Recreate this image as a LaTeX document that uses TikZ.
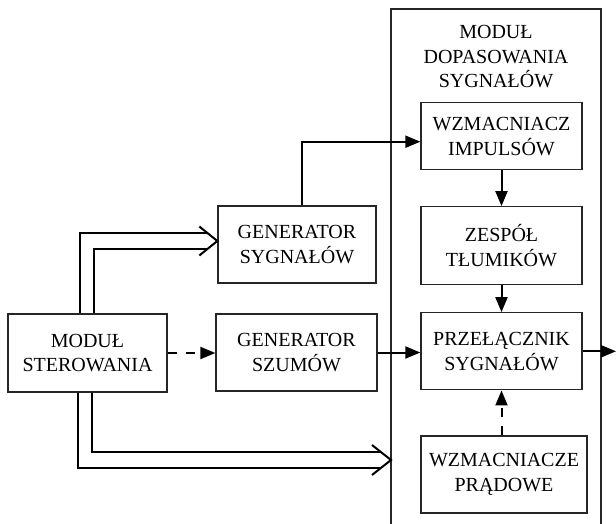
\documentclass[tikz,border=0pt]{standalone}
\usepackage{fontspec}
\setmainfont{Liberation Serif}
\usetikzlibrary{arrows.meta,calc}
\begin{document}
\begin{tikzpicture}[x=1pt,y=-1pt,
  every node/.style={font=\fontsize{20}{24.5}\selectfont, align=center},
  blk/.style={draw=black!85, line width=1.3pt, inner sep=0pt},
  lbl/.style={inner sep=0pt},
  conn/.style={line width=2pt},
  arr/.style={conn, -{Triangle[length=15pt,width=12pt]}},
  dsh/.style={dash pattern=on 9pt off 9pt},
  chev/.style={line width=2pt, line join=miter, miter limit=10}
]
\useasboundingbox (0,0) rectangle (616,524);

% outer module frame
\coordinate (obl) at (391,524);
\coordinate (otl) at (391,9);
\coordinate (otr) at (601,9);
\coordinate (obr) at (601,524);
\draw[blk] (obl) -- (otl) -- (otr) -- (obr);
\node[lbl] (mdtitle) at (496,57) {MODUŁ\\DOPASOWANIA\\SYGNAŁÓW};

% blocks
\node[blk, minimum width=159pt, minimum height=78pt] (ms) at (87.5,353) {MODUŁ\\STEROWANIA};
\node[blk, minimum width=158pt, minimum height=77pt] (gsyg) at (297,244.5) {GENERATOR\\SYGNAŁÓW};
\node[blk, minimum width=161pt, minimum height=77pt] (gszum) at (296.5,352.5) {GENERATOR\\SZUMÓW};
\node[blk, minimum width=161pt, minimum height=67pt] (wi) at (501.5,136.3) {WZMACNIACZ\\IMPULSÓW};
\node[blk, minimum width=161pt, minimum height=77.5pt] (zt) at (501.5,245.5) {ZESPÓŁ\\TŁUMIKÓW};
\node[blk, minimum width=161pt, minimum height=77pt] (ps) at (501.5,351.3) {PRZEŁĄCZNIK\\SYGNAŁÓW};
\node[blk, minimum width=166pt, minimum height=77pt] (wp) at (504,474.5) {WZMACNIACZE\\PRĄDOWE};

% single connectors
\draw[arr] ([xshift=4.7pt]gsyg.north) |- ([yshift=-5.4pt]wi.west);
\draw[arr] (wi.south) -- (zt.north);
\draw[arr] (zt.south) -- (ps.north);
\draw[arr] (gszum.east) -- (gszum.east -| ps.west);
\draw[arr, dsh] (ms.east) -- (ms.east -| gszum.west);
\draw[arr, dsh] (ps.south |- wp.north) -- (ps.south);
\coordinate (out) at (616,351.3);
\draw[arr] (ps.east) -- (out);

% double (bus) connector to GENERATOR SYGNALOW
\coordinate (ct) at ([yshift=3.5pt]gsyg.west);
\draw[conn] ([xshift=-7.5pt]ms.north) |- ($(ct)+(-10,-8.3)$);
\draw[conn] ([xshift=6.5pt]ms.north) |- ($(ct)+(-10,8.3)$);
\draw[chev] ($(ct)+(-18,-14.5)$) -- (ct) -- ($(ct)+(-18,14.5)$);

% double (bus) connector to module frame
\coordinate (cb) at (391,460);
\draw[conn] ([xshift=-9.5pt]ms.south) |- ($(cb)+(-10,8.3)$);
\draw[conn] ([xshift=4.5pt]ms.south) |- ($(cb)+(-10,-8.3)$);
\draw[chev] ($(cb)+(-19,-15)$) -- (cb) -- ($(cb)+(-19,15)$);
\end{tikzpicture}
\end{document}
